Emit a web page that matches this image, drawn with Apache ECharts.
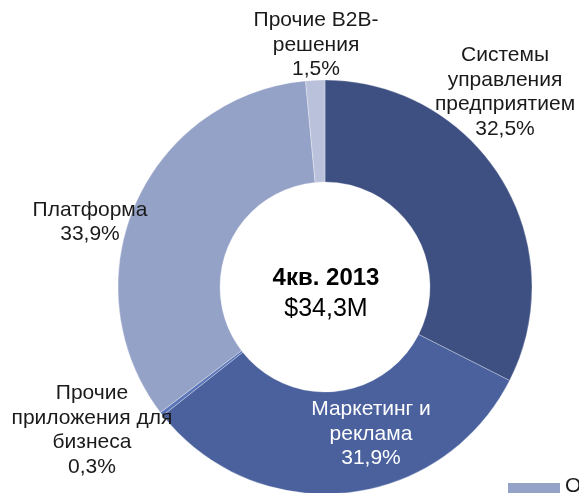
<!DOCTYPE html>
<html>
<head>
<meta charset="utf-8">
<script src="https://cdn.jsdelivr.net/npm/echarts@6/dist/echarts.min.js"></script>
<style>
  html, body { margin: 0; padding: 0; background: #fff; }
  #chart { width: 579px; height: 493px; }
</style>
</head>
<body>
<div id="chart"></div>
<script>
// данные сегментов (по часовой стрелке от верха)
var segNames = ['Системы\nуправления\nпредприятием', 'Маркетинг и\nреклама', 'Прочие\nприложения для\nбизнеса', 'Платформа', 'Прочие B2B-\nрешения'];
var segValues = [32.5, 31.9, 0.3, 33.9, 1.5];
var segLabels = ['32,5%', '31,9%', '0,3%', '33,9%', '1,5%'];
var segColors = ['#3e4f82', '#4a619e', '#5b76b8', '#95a2c8', '#bac1da'];
var centerTitle = '4кв. 2013';
var centerValue = '$34,3M';

// позиции подписей (центр блока текста)
var labelPos = [[505, 92], [371, 434], [92, 430], [90, 222], [316, 45]];

var chart = echarts.init(document.getElementById('chart'));

var data = segValues.map(function (v, i) {
  return {
    name: segNames[i],
    value: v,
    itemStyle: { color: segColors[i] },
    label: i === 1 ? { color: '#fff' } : {}
  };
});

chart.setOption({
  animation: false,
  series: [{
    type: 'pie',
    center: [325, 287],
    radius: [105, 207],
    startAngle: 90,
    clockwise: true,
    data: data,
    itemStyle: { borderColor: 'rgba(255,255,255,0.5)', borderWidth: 0.6 },
    label: {
      show: true,
      position: 'outside',
      overflow: 'none',
      fontFamily: 'Liberation Sans, Arial, sans-serif',
      fontSize: 21,
      lineHeight: 24.5,
      color: '#1a1a1a',
      align: 'center',
      formatter: function (p) { return p.name + '\n' + segLabels[p.dataIndex]; }
    },
    labelLine: { show: false },
    labelLayout: function (params) {
      var pos = labelPos[params.dataIndex];
      return { x: pos[0], y: pos[1], align: 'center', verticalAlign: 'middle' };
    },
    emphasis: { disabled: true }
  }],
  graphic: [
    {
      type: 'text',
      style: {
        x: 326, y: 278, text: centerTitle, align: 'center', verticalAlign: 'middle',
        font: 'bold 24px Liberation Sans, Arial, sans-serif', fill: '#000'
      }
    },
    {
      type: 'text',
      style: {
        x: 326, y: 309, text: centerValue, align: 'center', verticalAlign: 'middle',
        font: '25px Liberation Sans, Arial, sans-serif', fill: '#000'
      }
    },
    {
      type: 'rect',
      shape: { x: 508, y: 483, width: 52, height: 10 },
      style: { fill: '#95a2c8' }
    },
    {
      type: 'text',
      style: {
        x: 565, y: 476, text: 'О', font: '21px Liberation Sans, Arial, sans-serif', fill: '#1a1a1a'
      }
    }
  ]
});
</script>
</body>
</html>
